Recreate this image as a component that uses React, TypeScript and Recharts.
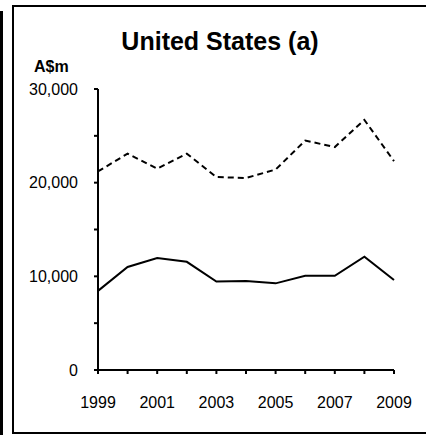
import React from "react";
import { LineChart, Line, XAxis, YAxis } from "recharts";

const years = ["1999", "2000", "2001", "2002", "2003", "2004", "2005", "2006", "2007", "2008", "2009"];
const dashedValues = [21200, 23100, 21500, 23100, 20600, 20500, 21400, 24500, 23800, 26700, 22300];
const solidValues = [8450, 11000, 11950, 11550, 9450, 9500, 9250, 10050, 10050, 12100, 9600];
const yTicks = [0, 5000, 10000, 15000, 20000, 25000, 30000];
const labelledYears = ["1999", "2001", "2003", "2005", "2007", "2009"];

const data = years.map((year, i) => ({
  year,
  dashed: dashedValues[i],
  solid: solidValues[i],
}));

const FONT = "Liberation Sans, Arial, sans-serif";

const YTick = (props: any) => {
  const { x, y, payload } = props;
  if (payload.value % 10000 !== 0) return <g />;
  return (
    <text
      x={x}
      y={y}
      dy="0.36em"
      textAnchor="end"
      fontSize={16}
      fontWeight="normal"
      fill="#000"
      stroke="none"
      fontFamily={FONT}
    >
      {Number(payload.value).toLocaleString("en-US")}
    </text>
  );
};

const XTick = (props: any) => {
  const { x, y, payload } = props;
  if (!labelledYears.includes(payload.value)) return <g />;
  return (
    <text
      x={x}
      y={Math.round(y)}
      textAnchor="middle"
      fontSize={16}
      fontWeight="normal"
      fill="#000"
      stroke="none"
      fontFamily={FONT}
    >
      {payload.value}
    </text>
  );
};

const App: React.FC = () => {
  return (
    <div style={{ position: "absolute", left: 0, top: 0, width: 426, height: 435, background: "#fff", fontFamily: FONT }}>
      <div style={{ position: "absolute", left: 0, top: 11, width: 3, height: 424, background: "#000" }} />
      <div
        style={{
          position: "absolute",
          left: 12,
          top: 5,
          width: 430,
          height: 425,
          borderLeft: "2px solid #000",
          borderTop: "2px solid #000",
          borderBottom: "2px solid #000",
        }}
      />
      <div
        style={{
          position: "absolute",
          left: 0,
          width: 440,
          top: 26,
          textAlign: "center",
          fontSize: 25,
          fontWeight: "bold",
          lineHeight: "30px",
        }}
      >
        United States (a)
      </div>
      <div style={{ position: "absolute", left: 34, top: 57, fontSize: 16, fontWeight: "bold", lineHeight: "20px" }}>
        A$m
      </div>
      <div style={{ position: "absolute", left: 0, top: 0 }}>
        <LineChart width={426} height={435} data={data} margin={{ top: 89, right: 32, bottom: 35, left: 0 }}>
          <XAxis
            dataKey="year"
            interval={0}
            height={30}
            tickSize={4}
            tickMargin={34}
            axisLine={{ stroke: "#000", strokeWidth: 2 }}
            tickLine={{ stroke: "#000", strokeWidth: 2 }}
            tick={<XTick />}
          />
          <YAxis
            width={98}
            domain={[0, 30000]}
            ticks={yTicks}
            interval={0}
            tickSize={4}
            tickMargin={16}
            axisLine={{ stroke: "#000", strokeWidth: 2 }}
            tickLine={{ stroke: "#000", strokeWidth: 2 }}
            tick={<YTick />}
          />
          <Line
            type="linear"
            dataKey="dashed"
            stroke="#000"
            strokeWidth={2}
            strokeDasharray="6 4"
            dot={false}
            isAnimationActive={false}
          />
          <Line type="linear" dataKey="solid" stroke="#000" strokeWidth={2} dot={false} isAnimationActive={false} />
        </LineChart>
      </div>
    </div>
  );
};

export default App;
